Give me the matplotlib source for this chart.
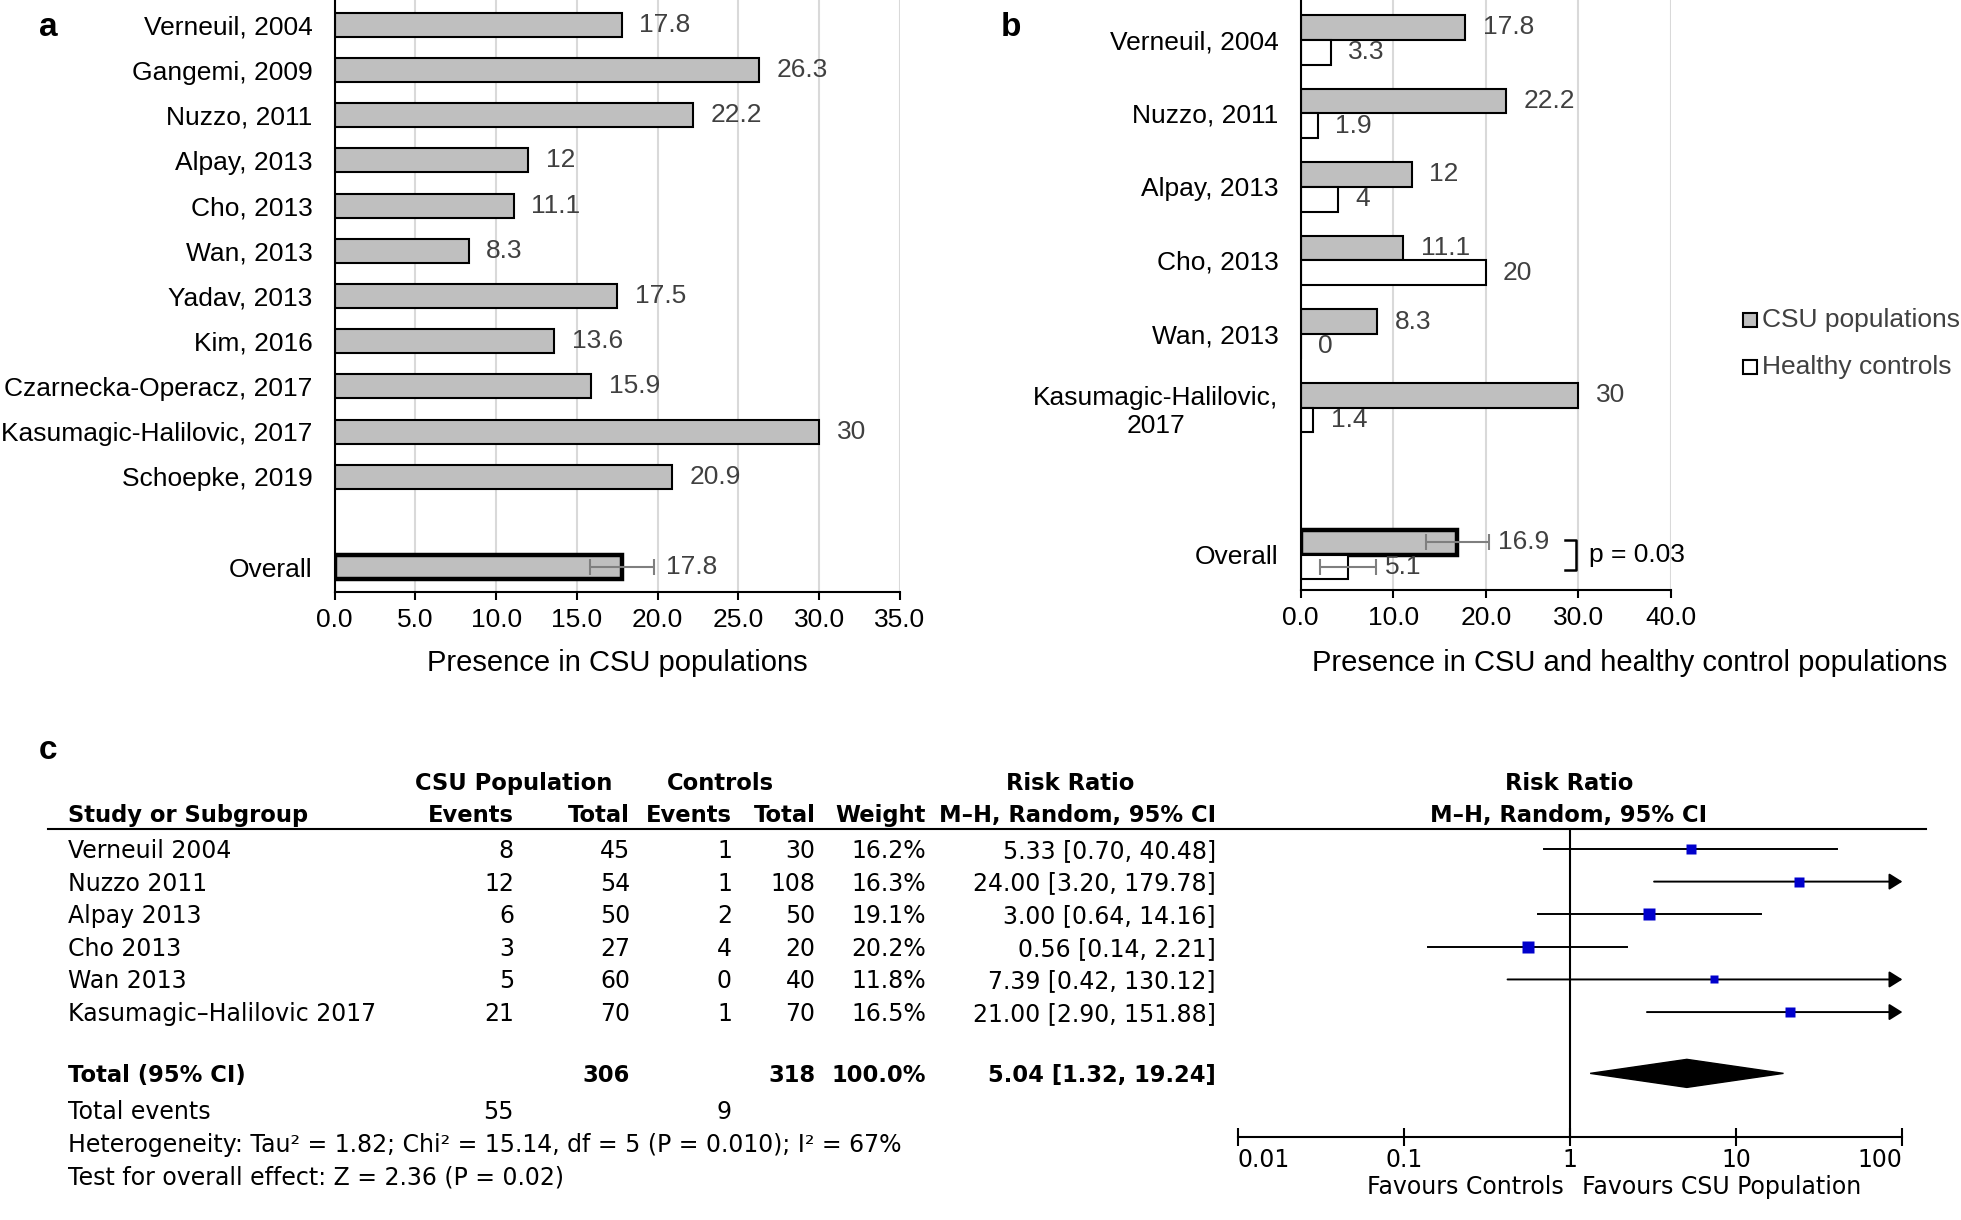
import numpy as np
import matplotlib
matplotlib.use('Agg')
import matplotlib.pyplot as plt
import matplotlib.transforms as mtransforms
from matplotlib.lines import Line2D
from matplotlib.patches import Rectangle, Polygon
from matplotlib.ticker import NullLocator

# ---- panel a: presence in CSU populations
studies_a = ['Verneuil, 2004', 'Gangemi, 2009', 'Nuzzo, 2011', 'Alpay, 2013', 'Cho, 2013',
             'Wan, 2013', 'Yadav, 2013', 'Kim, 2016', 'Czarnecka-Operacz, 2017',
             'Kasumagic-Halilovic, 2017', 'Schoepke, 2019']
presence_a = [17.8, 26.3, 22.2, 12, 11.1, 8.3, 17.5, 13.6, 15.9, 30, 20.9]
overall_a = 17.8
overall_a_ci = [15.8, 19.8]

# ---- panel b: CSU vs healthy controls
studies_b = ['Verneuil, 2004', 'Nuzzo, 2011', 'Alpay, 2013', 'Cho, 2013', 'Wan, 2013',
             'Kasumagic-Halilovic,\n2017']
csu_b = [17.8, 22.2, 12, 11.1, 8.3, 30]
healthy_b = [3.3, 1.9, 4, 20, 0, 1.4]
overall_csu_b = 16.9
overall_csu_b_ci = [13.6, 20.3]
overall_healthy_b = 5.1
overall_healthy_b_ci = [2.1, 8.1]
p_text_b = 'p = 0.03'

# ---- panel c: forest plot table
studies_c = ['Verneuil 2004', 'Nuzzo 2011', 'Alpay 2013', 'Cho 2013', 'Wan 2013',
             'Kasumagic\u2013Halilovic 2017']
csu_events = [8, 12, 6, 3, 5, 21]
csu_total = [45, 54, 50, 27, 60, 70]
ctrl_events = [1, 1, 2, 4, 0, 1]
ctrl_total = [30, 108, 50, 20, 40, 70]
weights = [16.2, 16.3, 19.1, 20.2, 11.8, 16.5]
rr = [5.33, 24.00, 3.00, 0.56, 7.39, 21.00]
rr_lo = [0.70, 3.20, 0.64, 0.14, 0.42, 2.90]
rr_hi = [40.48, 179.78, 14.16, 2.21, 130.12, 151.88]
total_csu, total_ctrl = 306, 318
total_weight = 100.0
total_csu_events, total_ctrl_events = 55, 9
total_rr, total_lo, total_hi = 5.04, 1.32, 19.24
heterogeneity = 'Heterogeneity: Tau\u00b2 = 1.82; Chi\u00b2 = 15.14, df = 5 (P = 0.010); I\u00b2 = 67%'
overall_test = 'Test for overall effect: Z = 2.36 (P = 0.02)'
forest_ticks = [0.01, 0.1, 1, 10, 100]

W, H = 1961, 1220
plt.rcParams['font.family'] = ['Liberation Sans', 'DejaVu Sans']
fig = plt.figure(figsize=(W / 100, H / 100), dpi=100)

GRAY = '#BFBFBF'
LABEL = '#404040'
GRID = '#D9D9D9'
FS = 19
CFS = 17
CFS_BOLD = 16.3
CFONT = ['DejaVu Sans']


def fx(x):
    return x / W


def fy(y):
    return 1 - y / H


def box(left, top, right, bottom):
    return [left / W, 1 - bottom / H, (right - left) / W, (bottom - top) / H]


def style_bar_axes(ax, xmax, step):
    ax.set_xlim(0, xmax)
    ticks = np.arange(0, xmax + 0.1, step)
    ax.set_xticks(ticks)
    ax.set_xticklabels([f'{t:.1f}' for t in ticks])
    ax.xaxis.grid(True, color=GRID, lw=1.5)
    ax.set_axisbelow(True)
    for s in ['top', 'right']:
        ax.spines[s].set_visible(False)
    for s in ['left', 'bottom']:
        ax.spines[s].set_linewidth(1.5)
        ax.spines[s].set_zorder(5)
    ax.tick_params(axis='y', length=0, pad=16, labelsize=FS)
    ax.tick_params(axis='x', length=6, width=1.5, direction='out', pad=5.5, labelsize=FS)


# ================= panel a
ax_a = fig.add_axes(box(334.5, 0, 900, 592))
y_a = np.arange(len(studies_a))
y_over_a = len(studies_a) + 1
ax_a.barh(y_a, presence_a, height=0.53, color=GRAY, edgecolor='k', lw=1.5, zorder=3)
ax_a.barh(y_over_a, overall_a, height=0.53, color=GRAY, edgecolor='k', lw=3.2, zorder=3)
ax_a.errorbar(overall_a, y_over_a,
              xerr=[[overall_a - overall_a_ci[0]], [overall_a_ci[1] - overall_a]],
              fmt='none', ecolor='#7F7F7F', elinewidth=1.5, capsize=6, capthick=1.5, zorder=4)
for yy, v in zip(y_a, presence_a):
    ax_a.annotate(f'{v:g}', (v, yy), xytext=(12.5, 0), textcoords='offset points',
                  va='center', ha='left', color=LABEL, fontsize=FS)
ax_a.annotate(f'{overall_a:g}', (overall_a_ci[1], y_over_a), xytext=(8, 0),
              textcoords='offset points', va='center', ha='left', color=LABEL, fontsize=FS)
style_bar_axes(ax_a, 35, 5)
ax_a.set_yticks(list(y_a) + [y_over_a])
ax_a.set_yticklabels(studies_a + ['Overall'])
ax_a.set_ylim(y_over_a + 0.55, -0.55)
fig.text(fx(617), fy(663), 'Presence in CSU populations', ha='center', va='center', fontsize=21)

# ================= panel b
ax_b = fig.add_axes(box(1300.5, 0, 1671, 590))
y_b = np.arange(len(studies_b))
y_over_b = len(studies_b) + 1
h = 0.337
ax_b.barh(y_b - h / 2, csu_b, height=h, color=GRAY, edgecolor='k', lw=1.5, zorder=3)
ax_b.barh(y_b + h / 2, healthy_b, height=h, color='white', edgecolor='k', lw=1.5, zorder=3)
ax_b.barh(y_over_b - h / 2, overall_csu_b, height=h, color=GRAY, edgecolor='k', lw=3.2, zorder=3)
ax_b.barh(y_over_b + h / 2, overall_healthy_b, height=h, color='white', edgecolor='k', lw=1.5, zorder=3)
for val, ci, yy in [(overall_csu_b, overall_csu_b_ci, y_over_b - h / 2),
                    (overall_healthy_b, overall_healthy_b_ci, y_over_b + h / 2)]:
    ax_b.errorbar(val, yy, xerr=[[val - ci[0]], [ci[1] - val]], fmt='none', ecolor='#7F7F7F',
                  elinewidth=1.5, capsize=6, capthick=1.5, zorder=4)
    ax_b.annotate(f'{val:g}', (ci[1], yy), xytext=(6.5, 0), textcoords='offset points',
                  va='center', ha='left', color=LABEL, fontsize=FS)
for yy, c, hc in zip(y_b, csu_b, healthy_b):
    ax_b.annotate(f'{c:g}', (c, yy - h / 2), xytext=(12.5, 0), textcoords='offset points',
                  va='center', ha='left', color=LABEL, fontsize=FS)
    ax_b.annotate(f'{hc:g}', (hc, yy + h / 2), xytext=(12.5, 0), textcoords='offset points',
                  va='center', ha='left', color=LABEL, fontsize=FS)
# bracket with p value
ax_b.plot([28.6, 29.7, 29.7, 28.6],
          [y_over_b - 0.2, y_over_b - 0.2, y_over_b + 0.21, y_over_b + 0.21],
          color='k', lw=1.8, zorder=4, clip_on=False)
ax_b.text(31.2, y_over_b, p_text_b, va='center', ha='left', fontsize=FS)
style_bar_axes(ax_b, 40, 10)
ax_b.set_yticks(list(y_b) + [y_over_b])
ax_b.set_yticklabels(studies_b + ['Overall'])
for lbl in ax_b.get_yticklabels():
    lbl.set_multialignment('center')
ax_b.set_ylim(y_over_b + 0.48, -0.54)
fig.text(fx(1630), fy(663), 'Presence in CSU and healthy control populations',
         ha='center', va='center', fontsize=21)

# legend for panel b
for ypix, fc, lab in [(320, GRAY, 'CSU populations'), (367, 'white', 'Healthy controls')]:
    fig.add_artist(Rectangle((fx(1743), fy(ypix + 7)), 14 / W, 14 / H, transform=fig.transFigure,
                             facecolor=fc, edgecolor='k', lw=1.5))
    fig.text(fx(1762), fy(ypix), lab, ha='left', va='center', fontsize=FS, color=LABEL)

# panel letters
fig.text(fx(48), fy(36), 'a', ha='center', va='baseline', fontsize=24, fontweight='bold')
fig.text(fx(1011), fy(36), 'b', ha='center', va='baseline', fontsize=24, fontweight='bold')
fig.text(fx(48), fy(759), 'c', ha='center', va='baseline', fontsize=24, fontweight='bold')

# ================= panel c
ax_f = fig.add_axes(box(1237.9, 829, 1902.4, 1137.3))
ax_f.set_xscale('log')
ax_f.set_xlim(0.01, 100)
ax_f.set_ylim(8.84, -0.613)
for s in ['top', 'right', 'left']:
    ax_f.spines[s].set_visible(False)
ax_f.spines['bottom'].set_linewidth(1.5)
ax_f.set_xticks(forest_ticks)
ax_f.set_xticklabels([f'{t:g}' for t in forest_ticks])
ax_f.xaxis.set_minor_locator(NullLocator())
ax_f.set_yticks([])
ax_f.tick_params(axis='x', direction='inout', length=13, width=1.5, pad=1, labelsize=CFS)
xl = ax_f.get_xticklabels()
for lbl in xl:
    lbl.set_fontfamily(CFONT)
xl[0].set_ha('left')
xl[-1].set_ha('right')
ax_f.axvline(1, color='k', lw=1.5)

rows = np.arange(len(studies_c))
for i in rows:
    if rr_hi[i] > 100:
        ax_f.annotate('', xy=(100, i), xytext=(rr_lo[i], i),
                      arrowprops=dict(arrowstyle='-|>,head_length=0.4,head_width=0.25',
                                      color='k', lw=1.4, shrinkA=0, shrinkB=0, mutation_scale=20))
    else:
        ax_f.plot([rr_lo[i], rr_hi[i]], [i, i], color='k', lw=1.4)
    ax_f.plot(rr[i], i, 's', color='#0000CC', ms=1.84 * np.sqrt(weights[i]), mec='none', zorder=4)

y_total = 6.88
ax_f.add_patch(Polygon([(total_lo, y_total), (total_rr, y_total - 0.43),
                        (total_hi, y_total), (total_rr, y_total + 0.43)],
                       closed=True, color='k'))

tr = mtransforms.blended_transform_factory(fig.transFigure, ax_f.transData)


def ctext(xpix, row, s, ha='right', bold=False):
    ax_f.text(fx(xpix), row + 0.06, s, transform=tr, ha=ha, va='center',
              fontsize=CFS_BOLD if bold else CFS, family=CFONT,
              fontweight='bold' if bold else 'normal', clip_on=False)


col_study, col_ev, col_tot, col_cev, col_ctot, col_w, col_rr = 67.8, 514, 630, 732, 815.5, 926, 1215.7

# headers
ctext(col_ev, -2.06, 'CSU Population', ha='center', bold=True)
ctext(720.7, -2.06, 'Controls', ha='center', bold=True)
ctext(1070, -2.06, 'Risk Ratio', ha='center', bold=True)
ctext(1569, -2.06, 'Risk Ratio', ha='center', bold=True)
ctext(col_study, -1.095, 'Study or Subgroup', ha='left', bold=True)
ctext(col_ev, -1.095, 'Events', bold=True)
ctext(col_tot, -1.095, 'Total', bold=True)
ctext(col_cev, -1.095, 'Events', bold=True)
ctext(col_ctot, -1.095, 'Total', bold=True)
ctext(col_w, -1.095, 'Weight', bold=True)
ctext(col_rr, -1.095, 'M\u2013H, Random, 95% CI', bold=True)
ctext(1569, -1.095, 'M\u2013H, Random, 95% CI', ha='center', bold=True)
fig.add_artist(Line2D([fx(47.8), fx(1925.7)], [fy(829), fy(829)], transform=fig.transFigure,
                      color='k', lw=1.5))

for i in rows:
    ctext(col_study, i, studies_c[i], ha='left')
    ctext(col_ev, i, str(csu_events[i]))
    ctext(col_tot, i, str(csu_total[i]))
    ctext(col_cev, i, str(ctrl_events[i]))
    ctext(col_ctot, i, str(ctrl_total[i]))
    ctext(col_w, i, f'{weights[i]:.1f}%')
    ctext(col_rr, i, f'{rr[i]:.2f} [{rr_lo[i]:.2f}, {rr_hi[i]:.2f}]')

ctext(col_study, y_total, 'Total (95% CI)', ha='left', bold=True)
ctext(col_tot, y_total, str(total_csu), bold=True)
ctext(col_ctot, y_total, str(total_ctrl), bold=True)
ctext(col_w, y_total, f'{total_weight:.1f}%', bold=True)
ctext(col_rr, y_total, f'{total_rr:.2f} [{total_lo:.2f}, {total_hi:.2f}]', bold=True)
ctext(col_study, 8.0, 'Total events', ha='left')
ctext(col_ev, 8.0, str(total_csu_events))
ctext(col_cev, 8.0, str(total_ctrl_events))
ctext(col_study, 9.03, heterogeneity, ha='left')
ctext(col_study, 10.0, overall_test, ha='left')

ax_f.annotate('Favours Controls', xy=(1, 10.36), xytext=(-4.5, 0), textcoords='offset points',
              ha='right', va='center', fontsize=CFS, family=CFONT, annotation_clip=False)
ax_f.annotate('Favours CSU Population', xy=(1, 10.36), xytext=(8.5, 0), textcoords='offset points',
              ha='left', va='center', fontsize=CFS, family=CFONT, annotation_clip=False)

fig.savefig('out.png', dpi=100)
